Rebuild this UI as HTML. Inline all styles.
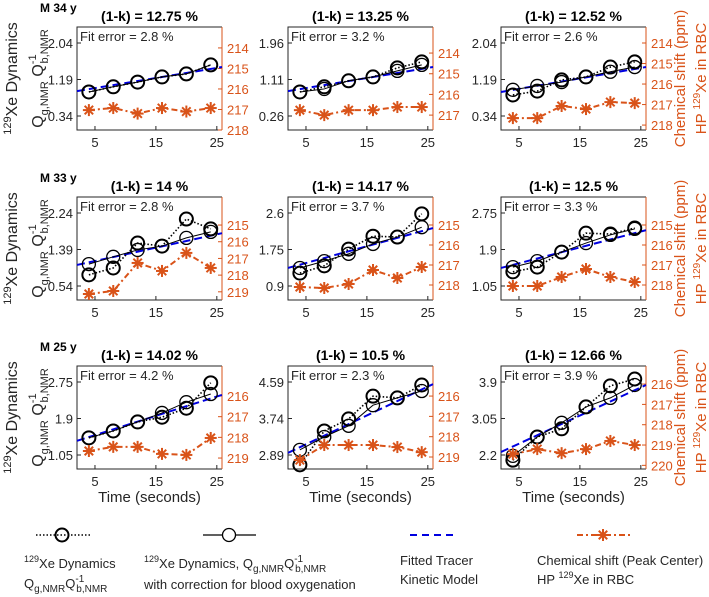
<!DOCTYPE html>
<html><head><meta charset="utf-8"><style>
html,body{margin:0;padding:0;background:#fff}
svg{display:block;font-family:"Liberation Sans",Arial,sans-serif}
</style></head><body>
<svg id="chart" width="709" height="597" viewBox="0 0 709 597" xmlns="http://www.w3.org/2000/svg"></svg>
<script>
const times = [4, 8, 12, 16, 20, 24];
const titles = ["(1-k) = 12.75 %","(1-k) = 13.25 %","(1-k) = 12.52 %","(1-k) = 14 %","(1-k) = 14.17 %","(1-k) = 12.5 %","(1-k) = 14.02 %","(1-k) = 10.5 %","(1-k) = 12.66 %"];
const fitErrors = ["2.8","3.2","2.6","2.8","3.7","3.3","4.2","2.3","3.9"];
const rowLabels = ["M 34 y","M 33 y","M 25 y"];
const leftTicks = [[0.34,1.19,2.04],[0.26,1.11,1.96],[0.34,1.19,2.04],[0.54,1.39,2.24],[0.9,1.75,2.6],[1.05,1.9,2.75],[1.05,1.9,2.75],[2.89,3.74,4.59],[2.2,3.05,3.9]];
const dottedSeries = [
 [0.90,1.02,1.13,1.25,1.32,1.53],
 [0.82,0.94,1.08,1.17,1.38,1.52],
 [0.83,0.92,1.18,1.25,1.48,1.60],
 [0.80,0.96,1.54,1.47,2.10,1.87],
 [1.20,1.37,1.76,2.06,2.04,2.58],
 [1.38,1.49,1.84,2.28,2.26,2.40],
 [1.45,1.61,1.82,1.93,2.14,2.73],
 [2.66,3.45,3.73,4.26,4.22,4.52],
 [2.08,2.62,2.81,3.32,3.81,3.97]];
const solidSeries = [
 [0.90,1.02,1.13,1.25,1.32,1.53],
 [0.82,0.89,1.08,1.17,1.31,1.45],
 [0.95,1.04,1.13,1.25,1.37,1.48],
 [1.05,1.22,1.38,1.47,1.66,1.80],
 [1.32,1.48,1.65,1.88,2.04,2.27],
 [1.49,1.63,1.84,2.05,2.24,2.38],
 [1.45,1.61,1.82,2.03,2.28,2.47],
 [3.01,3.31,3.57,4.05,4.22,4.38],
 [2.18,2.62,2.95,3.32,3.53,3.83]];
const fitStart = [0.92,0.84,0.90,1.03,1.32,1.47,1.38,2.94,2.27];
const fitEnd = [1.48,1.40,1.48,1.77,2.25,2.35,2.45,4.54,3.83];
const chemSeries = [
 [217.03,216.93,217.2,216.93,217.1,216.93],
 [216.76,217.0,216.76,216.76,216.61,216.61],
 [217.66,217.66,217.07,217.22,216.88,216.93],
 [219.13,218.95,217.27,217.75,216.67,217.57],
 [218.1,218.15,217.95,217.25,217.65,217.1],
 [218.05,218.05,217.6,217.2,217.6,217.85],
 [218.66,218.46,218.46,218.8,218.85,218.03],
 [219.15,218.41,218.41,218.41,218.51,218.76],
 [219.45,219.2,219.4,219.2,218.8,219.0]];
const rightDomains = [[212.98,218.0],[212.74,217.72],[213.22,218.24],[213.32,219.49],[213.6,218.75],[213.6,218.75],[214.55,219.53],[214.52,219.59],[215.11,220.18]];
const rightTicks = [[214,215,216,217,218],[214,215,216,217],[214,215,216,217,218],[215,216,217,218,219],[215,216,217,218],[215,216,217,218],[216,217,218,219],[216,217,218,219],[216,217,218,219,220]];
const xTicks = [5,15,25];
const xDomain = [2.05,25.85];

const NS="http://www.w3.org/2000/svg";
const svg=document.getElementById('chart');
const ORANGE="#D95319";
function mk(tag,attrs,parent,text){const e=document.createElementNS(NS,tag);for(const k in attrs)e.setAttribute(k,attrs[k]);if(text!==undefined)e.textContent=text;(parent||svg).appendChild(e);return e;}
const colX=[77,288,501], W=145, rowY=[27,197,366], H=103;

function asterisk(g,x,y){
  const r=6;
  for(let a=0;a<4;a++){const t=a*Math.PI/4;mk('line',{x1:x-r*Math.cos(t),y1:y-r*Math.sin(t),x2:x+r*Math.cos(t),y2:y+r*Math.sin(t),stroke:ORANGE,'stroke-width':2},g);}
}

for(let p=0;p<9;p++){
  const r=Math.floor(p/3), c=p%3, x0=colX[c], y0=rowY[r];
  const g=mk('g',{},svg);
  
  
  const lt=leftTicks[p], s2=lt[2]-lt[0];
  const lmin=lt[0]-(H-89)/73*s2, lmax=lt[2]+16/73*s2;
  const xs=v=>x0+(v-xDomain[0])/(xDomain[1]-xDomain[0])*W;
  const yl=v=>y0+H-(v-lmin)/(lmax-lmin)*H;
  const rd=rightDomains[p];
  const yr=v=>y0+(v-rd[0])/(rd[1]-rd[0])*H;
  // axes box
  mk('rect',{x:x0,y:y0,width:W,height:H,fill:'#fff',stroke:'none'},g);
  const ax=mk('path',{d:`M${x0+W},${y0}H${x0}V${y0+H}H${x0+W}`,fill:'none',stroke:'#262626','stroke-width':1},g);
  
  mk('line',{x1:x0+W,y1:y0,x2:x0+W,y2:y0+H,stroke:ORANGE,'stroke-width':1},g);
  // title
  const t=mk('text',{x:x0+W/2,y:y0-6,'text-anchor':'middle','font-size':14,'font-weight':'bold',fill:'#000'},g,titles[p]);
  
  const fe=mk('text',{x:x0+3,y:y0+14,'font-size':13,fill:'#262626'},g,'Fit error = '+fitErrors[p]+' %');
  
  // left ticks
  lt.forEach(v=>{const y=yl(v);mk('line',{x1:x0,y1:y,x2:x0+4,y2:y,stroke:'#262626'},g);
    const tl=mk('text',{x:x0-4,y:y+5,'text-anchor':'end','font-size':13,fill:'#262626'},g,String(v));
    });
  // right ticks
  rightTicks[p].forEach(v=>{const y=yr(v);mk('line',{x1:x0+W,y1:y,x2:x0+W-4,y2:y,stroke:ORANGE},g);
    const tr=mk('text',{x:x0+W+5,y:y+5,'font-size':13,fill:ORANGE},g,String(v));
    });
  // x ticks
  xTicks.forEach(v=>{const x=xs(v);mk('line',{x1:x,y1:y0+H,x2:x,y2:y0+H-4,stroke:'#262626'},g);
    const tx=mk('text',{x:x,y:y0+H+17,'text-anchor':'middle','font-size':13,fill:'#262626'},g,String(v));
    });
  // fit line
  const fl=mk('line',{x1:xs(xDomain[0]),y1:yl(fitStart[p]),x2:xs(xDomain[1]),y2:yl(fitEnd[p]),stroke:'#0000E0','stroke-width':2,'stroke-dasharray':'8,4'},g);
  
  // solid
  const sp=times.map((tt,i)=>xs(tt)+','+yl(solidSeries[p][i])).join(' ');
  const sl=mk('polyline',{points:sp,fill:'none',stroke:'#000','stroke-width':1},g);
  
  const dp=times.map((tt,i)=>xs(tt)+','+yl(dottedSeries[p][i])).join(' ');
  const dl=mk('polyline',{points:dp,fill:'none',stroke:'#000','stroke-width':1.6,'stroke-dasharray':'1.5,2'},g);
  
  times.forEach((tt,i)=>{
    const c1=mk('circle',{cx:xs(tt),cy:yl(solidSeries[p][i]),r:6.5,fill:'none',stroke:'#000','stroke-width':1.3},g);
    
    const c2=mk('circle',{cx:xs(tt),cy:yl(dottedSeries[p][i]),r:6.5,fill:'none',stroke:'#000','stroke-width':2},g);
    
  });
  // chem
  const cp=times.map((tt,i)=>xs(tt)+','+yr(chemSeries[p][i])).join(' ');
  const cl=mk('polyline',{points:cp,fill:'none',stroke:ORANGE,'stroke-width':2,'stroke-dasharray':'6,3,2,3'},g);
  
  times.forEach((tt,i)=>asterisk(g,xs(tt),yr(chemSeries[p][i])));
  // row labels & y labels
  if(c===0){
    const rl=mk('text',{x:40,y:y0-15,'font-size':12,'font-weight':'bold',fill:'#000'},g,rowLabels[r]);
    
    const cy=y0+H/2;
    const l1=mk('text',{transform:`translate(17,${cy}) rotate(-90)`,'text-anchor':'middle','font-size':16,fill:'#262626'},g);
    
    mk('tspan',{'font-size':11,dy:-6},l1,'129');mk('tspan',{dy:6},l1,'Xe Dynamics');
    const l2=mk('text',{transform:`translate(43,${cy}) rotate(-90)`,'text-anchor':'middle','font-size':16,fill:'#262626'},g);
    
    mk('tspan',{},l2,'Q');mk('tspan',{'font-size':11,dy:5},l2,'g,NMR');mk('tspan',{dy:-5},l2,' Q');
    mk('tspan',{'font-size':11,dy:-7},l2,'-1');mk('tspan',{'font-size':11,dx:-9,dy:12},l2,'b,NMR');
  }
  if(c===2){
    const cy=y0+H/2;
    const r1=mk('text',{transform:`translate(685,${cy}) rotate(-90)`,'text-anchor':'middle','font-size':15,fill:ORANGE},g,'Chemical shift (ppm)');
    
    const r2=mk('text',{transform:`translate(706,${cy}) rotate(-90)`,'text-anchor':'middle','font-size':15,fill:ORANGE},g);
    
    mk('tspan',{},r2,'HP ');mk('tspan',{'font-size':10,dy:-6},r2,'129');mk('tspan',{dy:6},r2,'Xe in RBC');
  }
  if(r===2){
    const xl=mk('text',{x:x0+W/2,y:502,'text-anchor':'middle','font-size':15,fill:'#262626'},g,'Time (seconds)');
    
  }
}
// legend
const lg=mk('g',{},svg);


mk('line',{x1:36,y1:535,x2:90,y2:535,stroke:'#000','stroke-width':1.6,'stroke-dasharray':'1.5,2'},lg);
mk('circle',{cx:62,cy:535,r:6.5,fill:'none',stroke:'#000','stroke-width':2},lg);
mk('line',{x1:203,y1:535,x2:256,y2:535,stroke:'#000','stroke-width':1.3},lg);
mk('circle',{cx:229,cy:535,r:6.5,fill:'#fff',stroke:'#000','stroke-width':1.3},lg);
mk('line',{x1:410,y1:535,x2:458,y2:535,stroke:'#0000E0','stroke-width':2,'stroke-dasharray':'7,5'},lg);
mk('line',{x1:577,y1:535,x2:630,y2:535,stroke:ORANGE,'stroke-width':2,'stroke-dasharray':'6,3,2,3'},lg);
asterisk(lg,603,535);
function ltext(x,y,parts){const t=mk('text',{x:x,y:y,'font-size':13,fill:'#262626'},lg);
  parts.forEach(pt=>{const ts=mk('tspan',pt[1]||{},t,pt[0]);});return t;}
let e;
e=ltext(24,568,[['129',{'font-size':9,dy:-6}],['Xe Dynamics',{dy:6}]]);
e=ltext(24,588,[['Q'],['g,NMR',{'font-size':10,dy:4}],['Q',{dy:-4}],['-1',{'font-size':10,dy:-6}],['b,NMR',{'font-size':10,dx:-8,dy:10}]]);
e=ltext(144,568,[['129',{'font-size':9,dy:-6}],['Xe Dynamics, Q',{dy:6}],['g,NMR',{'font-size':10,dy:4}],['Q',{dy:-4}],['-1',{'font-size':10,dy:-6}],['b,NMR',{'font-size':10,dx:-8,dy:10}]]);
e=ltext(144,589,[['with correction for blood oxygenation']]);
e=ltext(400,565,[['Fitted Tracer']]);
e=ltext(400,584,[['Kinetic Model']]);
e=ltext(537,565,[['Chemical shift (Peak Center)']]);
e=ltext(537,584,[['HP '],['129',{'font-size':9,dy:-6}],['Xe in RBC',{dy:6}]]);
</script>
</body></html>
